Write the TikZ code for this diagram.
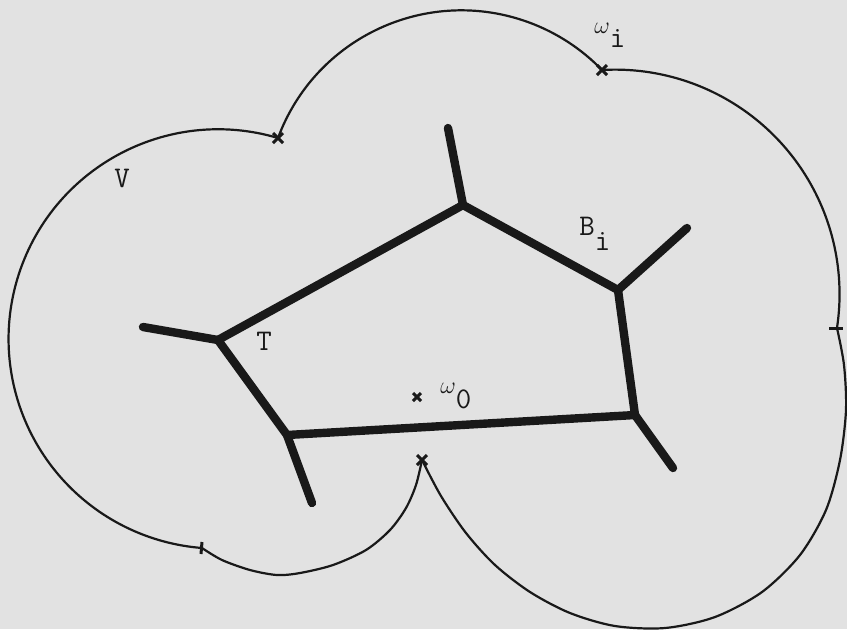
\documentclass[tikz,border=0pt]{standalone}
\usepackage{tikz}
\definecolor{paper}{RGB}{226,226,226}
\definecolor{ink}{RGB}{25,25,25}
\tikzset{
  outline/.style={ink, line width=1.1pt},
  edge/.style={ink, line width=4.2pt, line cap=round, line join=round},
  cusp/.style={ink, line width=1.5pt},
  lbl/.style={inner sep=0pt, anchor=base west, text=ink, font=\fontsize{15}{18}\selectfont\ttfamily},
}

\begin{document}
\begin{tikzpicture}[x=0.5pt,y=-0.5pt]
  \fill[paper] (0,0) rectangle (847,629);
  \useasboundingbox (0,0) rectangle (847,629);
  % cusps of the boundary of V
  \coordinate (c1) at (278,138);
  \coordinate (c2) at (602,70);
  \coordinate (c3) at (837,328);
  \coordinate (c4) at (422,460);
  \coordinate (c5) at (202,548);
  % boundary of V
  \draw[outline] (c1) arc[start angle=-73.43, end angle=-265.57, radius=209.67];
  \draw[outline] (c1) arc[start angle=-159.68, end angle=-44.03, radius=195.56];
  \draw[outline] (c2) arc[start angle=-93.34, end angle=8.69, radius=224.48];
  \draw[outline] plot[smooth] coordinates {(c3) (844,365) (846,410) (840,460)
    (826,510) (800,555) (762,592) (715,617) (665,628) (615,626) (570,613)
    (530,592) (495,565) (466,533) (441,496) (c4)};
  \draw[outline] plot[smooth] coordinates {(c4) (416,485) (406,508) (390,530) (366,550)
    (333,565) (300,573) (277,575) (250,570) (222,560) (c5)};
  \foreach \c in {c1,c2,c4}
    \draw[cusp] (\c) +(-5,-5) -- +(5,5) +(-5,5) -- +(5,-5);
  \draw[cusp] (c3) +(-8,0) -- +(6,0);
  \draw[cusp] (c5) +(0,-6) -- +(-1,6);
  % the cell T
  \coordinate (vT) at (218,340);
  \coordinate (vB) at (463,205);
  \coordinate (vC) at (618,290);
  \coordinate (vD) at (635,415);
  \coordinate (vE) at (287,435);
  \coordinate (tL) at (143,327);
  \coordinate (tB) at (448,128);
  \coordinate (tC) at (687,228);
  \coordinate (tD) at (673,468);
  \coordinate (tE) at (312,503);
  \draw[edge] (vT) -- (vB) -- (vC) -- (vD) -- (vE) -- cycle;
  \foreach \v/\t in {vT/tL,vB/tB,vC/tC,vD/tD,vE/tE}
    \draw[edge] (\v) -- (\t);
  % point omega_0
  \coordinate (w0pt) at (417,397);
  \draw[cusp] (w0pt) +(-4,-4) -- +(4,4) +(-4,4) -- +(4,-4);
  % labels
  \node[lbl] (V) at (114,187) {V};
  \node[lbl] (T) at (256,350) {T};
  \node[lbl] (Bi) at (579,235) {B\raisebox{-7.5pt}{i}};
  \node[lbl] (wi) at (594,47) {\raisebox{7pt}{\fontsize{12.5}{13}\selectfont$\omega$}i};
  \node[lbl] (w0) at (440,408) {\raisebox{7.5pt}{\fontsize{12.5}{13}\selectfont$\omega$}0};
\end{tikzpicture}
\end{document}
